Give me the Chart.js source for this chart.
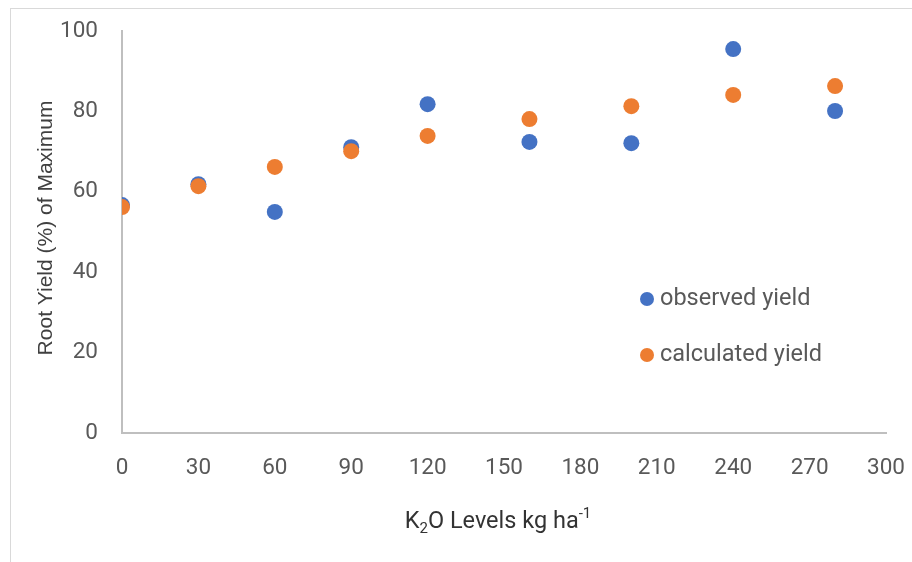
<!DOCTYPE html>
<html>
<head>
<meta charset="utf-8">
<script src="https://cdn.jsdelivr.net/npm/chart.js@4"></script>
<style>
  html, body { margin: 0; padding: 0; background: #fff; }
  #wrap { position: relative; width: 912px; height: 562px; }
  #frame { position: absolute; left: 10px; top: 8px; right: -2px; bottom: -2px;
           border-top: 1px solid #d9d9d9; border-left: 1px solid #d9d9d9; pointer-events: none; }
</style>
</head>
<body>
<div id="wrap">
  <canvas id="c" width="912" height="562"></canvas>
  <div id="frame"></div>
</div>
<script>
// K2O application levels (kg/ha)
const levels = [0, 30, 60, 90, 120, 160, 200, 240, 280];
// Root yield as % of maximum
const observedYield = [56.7, 61.9, 55.0, 71.1, 81.8, 72.4, 72.1, 95.5, 80.1];
const calculatedYield = [56.2, 61.4, 66.2, 70.1, 73.9, 78.1, 81.3, 84.1, 86.3];
const seriesNames = ['observed yield', 'calculated yield'];
const xTicks = [0, 30, 60, 90, 120, 150, 180, 210, 240, 270, 300];
const yTicks = [0, 20, 40, 60, 80, 100];

const BLUE = '#4472C4';
const ORANGE = '#ED7D31';
const TICK_FONT = { family: 'Roboto', size: 22.5 };

const toPoints = (ys) => levels.map((x, i) => ({ x, y: ys[i] }));

// invisible tick marks, used only to space the labels off the axis lines
const spacerGrid = (len) => ({
  display: true,
  drawOnChartArea: false,
  drawTicks: true,
  tickLength: len,
  color: 'rgba(0,0,0,0)'
});

// Axis titles (with sub/superscripts) and the in-plot legend
const annotations = {
  id: 'annotations',
  afterDraw(chart) {
    const ctx = chart.ctx;
    ctx.save();

    // y-axis title
    ctx.fillStyle = '#404040';
    ctx.font = '21px "Liberation Sans"';
    ctx.textAlign = 'center';
    ctx.textBaseline = 'middle';
    ctx.translate(46, 228);
    ctx.rotate(-Math.PI / 2);
    ctx.fillText('Root Yield (%) of Maximum', 0, 0);
    ctx.setTransform(1, 0, 0, 1, 0, 0);

    // x-axis title: K₂O Levels kg ha⁻¹
    const parts = [
      { t: 'K', size: 23.5, dy: 0 },
      { t: '2', size: 15, dy: 5 },
      { t: 'O Levels kg ha', size: 23.5, dy: 0 },
      { t: '-1', size: 15, dy: -10 }
    ];
    let total = 0;
    parts.forEach(p => { ctx.font = p.size + 'px Roboto'; p.w = ctx.measureText(p.t).width; total += p.w; });
    let x = 498 - total / 2;
    const baseY = 528;
    ctx.fillStyle = '#333333';
    ctx.textAlign = 'left';
    ctx.textBaseline = 'alphabetic';
    parts.forEach(p => {
      ctx.font = p.size + 'px Roboto';
      ctx.fillText(p.t, x, baseY + p.dy);
      x += p.w;
    });

    // legend inside the plot area
    const colors = [BLUE, ORANGE];
    const legendY = [299, 355];
    seriesNames.forEach((name, i) => {
      ctx.beginPath();
      ctx.fillStyle = colors[i];
      ctx.arc(647, legendY[i], 7, 0, Math.PI * 2);
      ctx.fill();
      ctx.fillStyle = '#595959';
      ctx.font = '23.5px Roboto';
      ctx.textBaseline = 'middle';
      ctx.fillText(name, 660, legendY[i]);
    });
    ctx.restore();
  }
};

new Chart(document.getElementById('c'), {
  type: 'scatter',
  data: {
    datasets: [
      {
        label: seriesNames[0],
        data: toPoints(observedYield),
        backgroundColor: BLUE,
        borderColor: BLUE,
        borderWidth: 0,
        pointRadius: 8,
        order: 1
      },
      {
        label: seriesNames[1],
        data: toPoints(calculatedYield),
        backgroundColor: ORANGE,
        borderColor: ORANGE,
        borderWidth: 0,
        pointRadius: 8,
        order: 0
      }
    ]
  },
  options: {
    responsive: false,
    animation: false,
    devicePixelRatio: 1,
    layout: { padding: { left: 0, top: 31, right: 26, bottom: 0 } },
    plugins: { legend: { display: false }, tooltip: { enabled: false } },
    scales: {
      x: {
        type: 'linear',
        min: 0,
        max: 300,
        afterBuildTicks: (s) => { s.ticks = xTicks.map(v => ({ value: v })); },
        afterFit: (s) => { s.height = 129; },
        grid: spacerGrid(22),
        border: { display: true, color: '#bfbfbf', width: 2 },
        ticks: { font: TICK_FONT, color: '#595959', padding: 0, maxRotation: 0 }
      },
      y: {
        type: 'linear',
        min: 0,
        max: 100,
        afterBuildTicks: (s) => { s.ticks = yTicks.map(v => ({ value: v })); },
        afterFit: (s) => { s.width = 122; },
        grid: spacerGrid(24),
        border: { display: true, color: '#bfbfbf', width: 2 },
        ticks: { font: TICK_FONT, color: '#595959', padding: 0 }
      }
    }
  },
  plugins: [annotations]
});
</script>
</body>
</html>
